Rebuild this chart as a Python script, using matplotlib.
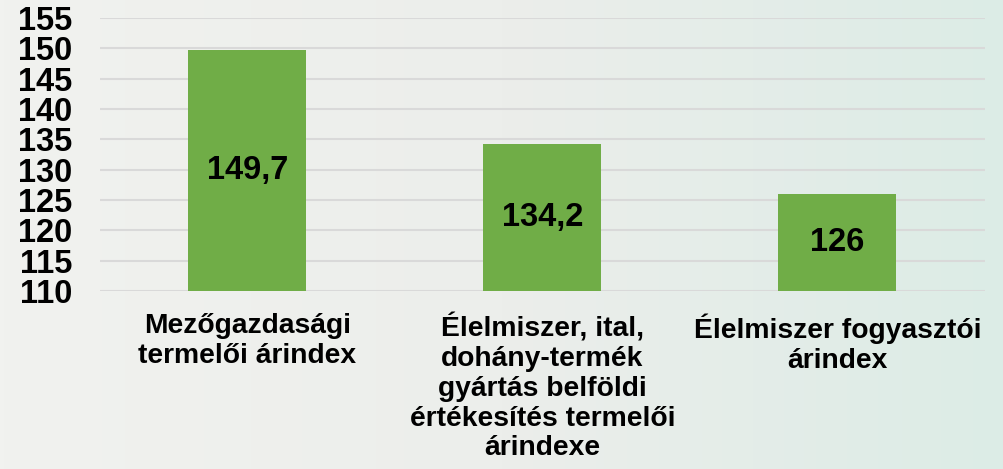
import matplotlib
matplotlib.use("Agg")
import matplotlib.pyplot as plt
import numpy as np
from matplotlib.colors import LinearSegmentedColormap

categories = ["Mezőgazdasági\ntermelői árindex",
              "Élelmiszer, ital,\ndohány-termék\ngyártás belföldi\nértékesítés termelői\nárindexe",
              "Élelmiszer fogyasztói\nárindex"]
values = [149.7, 134.2, 126]
value_labels = ["149,7", "134,2", "126"]
yticks = [110, 115, 120, 125, 130, 135, 140, 145, 150, 155]

plt.rcParams['font.family'] = ['Liberation Sans', 'DejaVu Sans']
plt.rcParams['font.weight'] = 'bold'

fig = plt.figure(figsize=(10.04, 4.69), dpi=100)

# background gradient
bg = fig.add_axes([0, 0, 1, 1], zorder=-10)
cmap = LinearSegmentedColormap.from_list("bg", ["#f1f2ef", "#eceeeb", "#dcece6"])
grad = np.linspace(0, 1, 256).reshape(1, -1)
bg.imshow(grad, aspect='auto', cmap=cmap, extent=[0, 1, 0, 1])
bg.axis('off')

ax = fig.add_axes([100/1004, 1-291/469, 885/1004, (291-18)/469])
ax.set_facecolor('none')
x = np.arange(len(categories))
ax.bar(x, values, width=0.4, color='#70ad47', zorder=3, bottom=0)
ax.set_ylim(110, 155)
ax.set_xlim(-0.5, 2.5)
ax.set_yticks(yticks)
ax.set_yticklabels([str(t) for t in yticks], fontsize=23.5, fontweight='bold')
ax.set_xticks(x)
ax.set_xticklabels(categories, fontsize=20.3, fontweight='bold', linespacing=1.19, va='top')
ax.tick_params(axis='y', length=0, pad=20)
ax.tick_params(axis='x', length=0, pad=16)
for s in ax.spines.values():
    s.set_visible(False)
ax.yaxis.grid(True, color='#d9d9d9', linewidth=1.5, zorder=0)
ax.set_axisbelow(True)

for xi, v, lab in zip(x, values, value_labels):
    ax.text(xi, (110 + v) / 2, lab, ha='center', va='center', fontsize=23.5,
            fontweight='bold', color='black', zorder=4)

fig.savefig("out.png", dpi=100)
